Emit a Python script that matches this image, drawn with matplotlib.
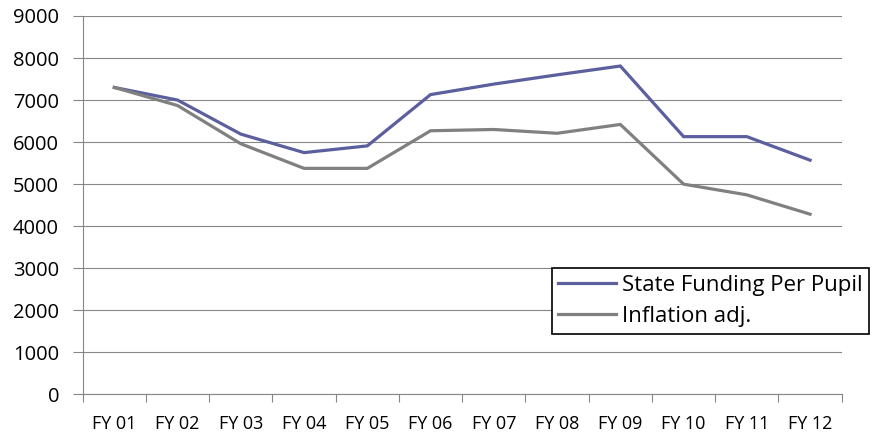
import matplotlib
matplotlib.use("Agg")
import matplotlib.pyplot as plt

categories = ["FY 01", "FY 02", "FY 03", "FY 04", "FY 05", "FY 06",
              "FY 07", "FY 08", "FY 09", "FY 10", "FY 11", "FY 12"]
state_funding = [7300, 7000, 6190, 5750, 5910, 7130, 7380, 7600, 7810, 6130, 6130, 5570]
inflation_adj = [7300, 6870, 5960, 5375, 5375, 6270, 6300, 6210, 6420, 5000, 4745, 4285]
y_ticks = [0, 1000, 2000, 3000, 4000, 5000, 6000, 7000, 8000, 9000]

plt.rcParams['font.family'] = ['Open Sans', 'DejaVu Sans']

W, H = 876, 437
fig = plt.figure(figsize=(W / 100, H / 100), dpi=100)
ax = fig.add_axes([82.7 / W, 1 - 394.3 / H, (841.7 - 82.7) / W, (394.3 - 16) / H])

grid_c = "#868686"
x = list(range(len(categories)))
ax.plot(x, state_funding, color="#5c5f9e", lw=2.3, label="State Funding Per Pupil",
        solid_joinstyle="miter")
ax.plot(x, inflation_adj, color="#808080", lw=2.3, label="Inflation adj.",
        solid_joinstyle="miter")

ax.set_xlim(-0.5, len(categories) - 0.5)
ax.set_ylim(0, 9000)
ax.set_yticks(y_ticks)
ax.set_yticklabels([str(v) for v in y_ticks], fontsize=14.5)
ax.set_xticks(x)
ax.set_xticklabels(categories, fontsize=13)
ax.tick_params(axis="x", which="major", length=0, pad=15)
ax.set_xticks([i - 0.5 for i in range(len(categories) + 1)], minor=True)
ax.tick_params(axis="x", which="minor", length=6, width=0.8, color=grid_c, direction="out")
ax.tick_params(axis="y", length=7, width=0.8, color=grid_c, direction="out", pad=10)

ax.grid(axis="y", color=grid_c, lw=0.8)
ax.set_axisbelow(True)
for s in ["top", "right"]:
    ax.spines[s].set_visible(False)
for s in ["left", "bottom"]:
    ax.spines[s].set_color(grid_c)
    ax.spines[s].set_linewidth(0.8)

leg = ax.legend(loc="upper left", bbox_to_anchor=(551.7 / W, 1 - 268.3 / H),
                bbox_transform=fig.transFigure, borderaxespad=0, fontsize=16,
                fancybox=False, edgecolor="black", framealpha=1,
                handlelength=2.6, handletextpad=0.25, labelspacing=0.45,
                borderpad=0.3)
leg.get_frame().set_linewidth(1.2)

fig.savefig("out.png", dpi=100)
